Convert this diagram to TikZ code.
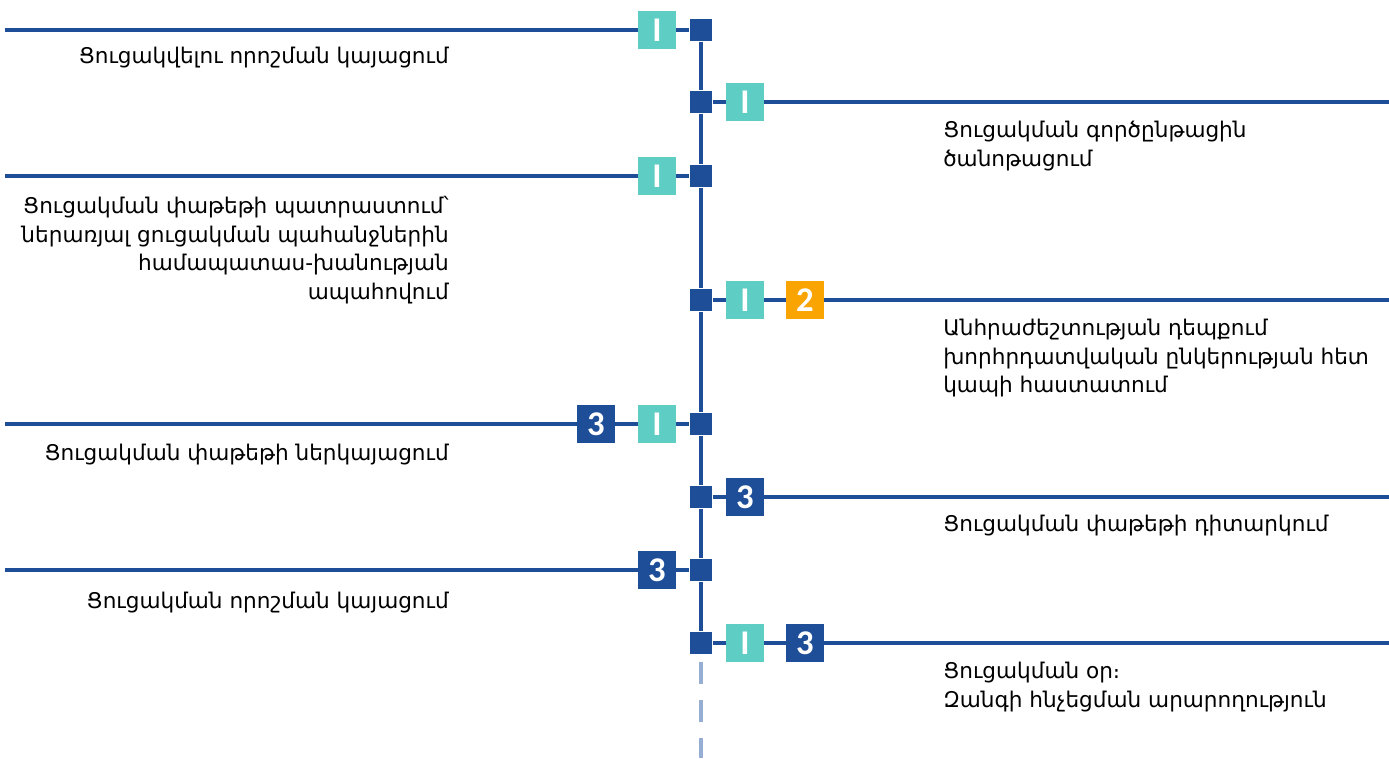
\documentclass[tikz,border=0pt]{standalone}
\usepackage{fontspec}
\setmainfont{DejaVu Sans}
\newfontfamily\badgefont{Carlito}
\definecolor{darkblue}{HTML}{1F4E99}
\definecolor{teal}{HTML}{5ECDC4}
\definecolor{amber}{HTML}{F9A400}
\definecolor{paleblue}{HTML}{96AED4}
\begin{document}
\begin{tikzpicture}[x=0.75pt,y=-0.75pt,
		junction/.style={fill=darkblue,minimum size=17pt,inner sep=0pt},
		badge/.style={minimum size=28.5pt,inner sep=0pt,text=white,font=\badgefont\bfseries\fontsize{26}{26}\selectfont},
		phaseI/.style={badge,fill=teal},
		phaseII/.style={badge,fill=amber},
		phaseIII/.style={badge,fill=darkblue},
		link/.style={darkblue,line width=3pt},
		steptext/.style={font=\fontsize{16.2}{21.4}\selectfont,inner sep=0pt}]
	\useasboundingbox (0,0) rectangle (1389,758);
	% junctions on the time line
	\node[junction] (j1) at (701,30) {};
	\node[junction] (j2) at (701,102) {};
	\node[junction] (j3) at (701,176) {};
	\node[junction] (j4) at (701,300) {};
	\node[junction] (j5) at (701,424) {};
	\node[junction] (j6) at (701,497) {};
	\node[junction] (j7) at (701,570) {};
	\node[junction] (j8) at (701,643) {};
	% phase badges
	\node[phaseI] (b1) at (657,30) {I};
	\node[phaseI] (b2) at (745,102) {I};
	\node[phaseI] (b3) at (657,176) {I};
	\node[phaseI] (b4a) at (745,300) {I};
	\node[phaseII] (b4b) at (805,300) {2};
	\node[phaseI] (b5a) at (657,424) {I};
	\node[phaseIII] (b5b) at (596,424) {3};
	\node[phaseIII] (b6) at (745,497) {3};
	\node[phaseIII] (b7) at (657,570) {3};
	\node[phaseI] (b8a) at (745,643) {I};
	\node[phaseIII] (b8b) at (805,643) {3};
	% free ends
	\coordinate (e1) at (5,30);
	\coordinate (e2) at (1389,102);
	\coordinate (e3) at (5,176);
	\coordinate (e4) at (1389,300);
	\coordinate (e5) at (5,424);
	\coordinate (e6) at (1389,497);
	\coordinate (e7) at (5,570);
	\coordinate (e8) at (1389,643);
	\coordinate (end) at (701,758);
	% lines
	\draw[link] (j1) -- (j2) -- (j3) -- (j4) -- (j5) -- (j6) -- (j7) -- (j8);
	\draw[paleblue,line width=3pt,dash pattern=on 16.5pt off 12pt,dash phase=23.25pt] (j8) -- (end);
	\draw[link] (e1) -- (b1) -- (j1);
	\draw[link] (j2) -- (b2) -- (e2);
	\draw[link] (e3) -- (b3) -- (j3);
	\draw[link] (j4) -- (b4a) -- (b4b) -- (e4);
	\draw[link] (e5) -- (b5b) -- (b5a) -- (j5);
	\draw[link] (j6) -- (b6) -- (e6);
	\draw[link] (e7) -- (b7) -- (j7);
	\draw[link] (j8) -- (b8a) -- (b8b) -- (e8);
	% texts
	\node[steptext,anchor=north east,align=right] (t1) at (449,47) {Ցուցակվելու որոշման կայացում};
	\node[steptext,anchor=north west,align=left] (t2) at (943,121) {Ցուցակման գործընթացին\\ծանոթացում};
	\node[steptext,anchor=north east,align=right] (t3) at (449,196) {Ցուցակման փաթեթի պատրաստում՝\\ներառյալ ցուցակման պահանջներին\\համապատաս-խանության\\ապահովում};
	\node[steptext,anchor=north west,align=left] (t4) at (943,319) {Անհրաժեշտության դեպքում\\խորհրդատվական ընկերության հետ\\կապի հաստատում};
	\node[steptext,anchor=north east,align=right] (t5) at (449,444) {Ցուցակման փաթեթի ներկայացում};
	\node[steptext,anchor=north west,align=left] (t6) at (943,515) {Ցուցակման փաթեթի դիտարկում};
	\node[steptext,anchor=north east,align=right] (t7) at (449,592) {Ցուցակման որոշման կայացում};
	\node[steptext,anchor=north west,align=left] (t8) at (943,662) {Ցուցակման օր։\\Զանգի հնչեցման արարողություն};
\end{tikzpicture}
\end{document}
